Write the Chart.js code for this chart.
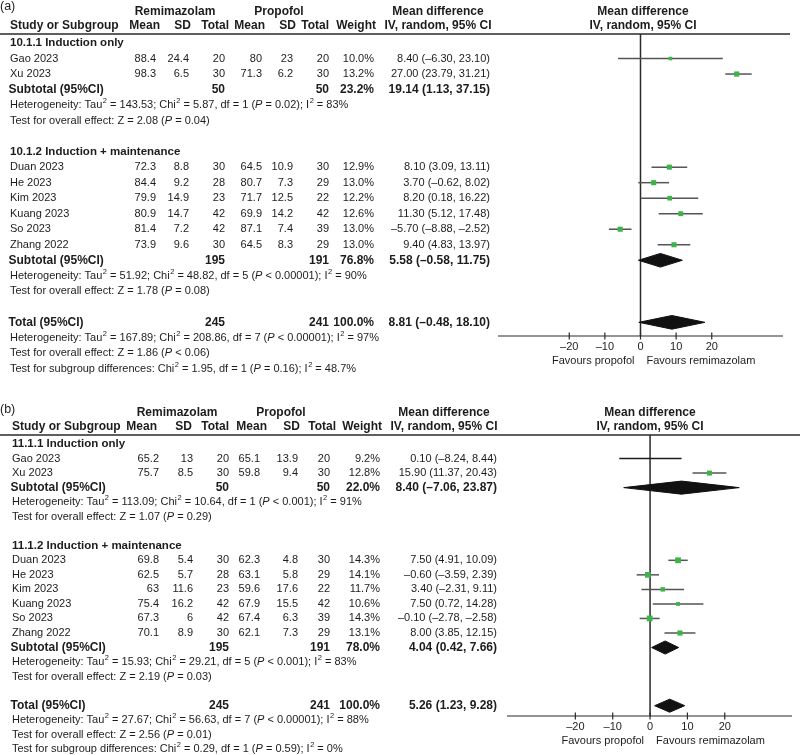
<!DOCTYPE html>
<html>
<head>
<meta charset="utf-8">
<script src="https://cdn.jsdelivr.net/npm/chart.js@4.4.0/dist/chart.umd.min.js"></script>
<style>
  body { margin: 0; background: #fff; }
  canvas { position: absolute; left: 0; }
</style>
</head>
<body>
<canvas id="chartA" width="800" height="385" style="top:0"></canvas>
<canvas id="chartB" width="800" height="370" style="top:385px"></canvas>
<script>
// ---- data ----
const studies = ["Gao 2023", "Xu 2023", "Duan 2023", "He 2023", "Kim 2023", "Kuang 2023", "So 2023", "Zhang 2022"];
const groupTitlesA = ["10.1.1 Induction only", "10.1.2 Induction + maintenance"];
const groupTitlesB = ["11.1.1 Induction only", "11.1.2 Induction + maintenance"];
const axisTicks = [-20, -10, 0, 10, 20];

// (a)
const aRemiMean = [88.4, 98.3, 72.3, 84.4, 79.9, 80.9, 81.4, 73.9];
const aRemiSD = [24.4, 6.5, 8.8, 9.2, 14.9, 14.7, 7.2, 9.6];
const aRemiN = [20, 30, 30, 28, 23, 42, 42, 30];
const aPropMean = [80, 71.3, 64.5, 80.7, 71.7, 69.9, 87.1, 64.5];
const aPropSD = [23, 6.2, 10.9, 7.3, 12.5, 14.2, 7.4, 8.3];
const aPropN = [20, 30, 30, 29, 22, 42, 39, 29];
const aWeight = [10.0, 13.2, 12.9, 13.0, 12.2, 12.6, 13.0, 13.0];
const aMD = [8.40, 27.00, 8.10, 3.70, 8.20, 11.30, -5.70, 9.40];
const aLow = [-6.30, 23.79, 3.09, -0.62, 0.18, 5.12, -8.88, 4.83];
const aHigh = [23.10, 31.21, 13.11, 8.02, 16.22, 17.48, -2.52, 13.97];
const aCiText = ["8.40 (–6.30, 23.10)", "27.00 (23.79, 31.21)", "8.10 (3.09, 13.11)", "3.70 (–0.62, 8.02)",
                 "8.20 (0.18, 16.22)", "11.30 (5.12, 17.48)", "–5.70 (–8.88, –2.52)", "9.40 (4.83, 13.97)"];
// subtotal 1, subtotal 2, total
const aPoolRemiN = [50, 195, 245];
const aPoolPropN = [50, 191, 241];
const aPoolWeight = ["23.2%", "76.8%", "100.0%"];
const aPoolMD = [19.14, 5.58, 8.81];
const aPoolLow = [1.13, -0.58, -0.48];
const aPoolHigh = [37.15, 11.75, 18.10];
const aPoolText = ["19.14 (1.13, 37.15)", "5.58 (–0.58, 11.75)", "8.81 (–0.48, 18.10)"];
const aPoolDrawn = [false, true, true];
const aStats = [
  ["Heterogeneity: Tau^2 = 143.53; Chi^2 = 5.87, df = 1 (*P* = 0.02); I^2 = 83%",
   "Test for overall effect: Z = 2.08 (*P* = 0.04)"],
  ["Heterogeneity: Tau^2 = 51.92; Chi^2 = 48.82, df = 5 (*P* < 0.00001); I^2 = 90%",
   "Test for overall effect: Z = 1.78 (*P* = 0.08)"],
  ["Heterogeneity: Tau^2 = 167.89; Chi^2 = 208.86, df = 7 (*P* < 0.00001); I^2 = 97%",
   "Test for overall effect: Z = 1.86 (*P* < 0.06)",
   "Test for subgroup differences: Chi^2 = 1.95, df = 1 (*P* = 0.16); I^2 = 48.7%"]
];

// (b)
const bRemiMean = [65.2, 75.7, 69.8, 62.5, 63, 75.4, 67.3, 70.1];
const bRemiSD = [13, 8.5, 5.4, 5.7, 11.6, 16.2, 6, 8.9];
const bRemiN = [20, 30, 30, 28, 23, 42, 42, 30];
const bPropMean = [65.1, 59.8, 62.3, 63.1, 59.6, 67.9, 67.4, 62.1];
const bPropSD = [13.9, 9.4, 4.8, 5.8, 17.6, 15.5, 6.3, 7.3];
const bPropN = [20, 30, 30, 29, 22, 42, 39, 29];
const bWeight = [9.2, 12.8, 14.3, 14.1, 11.7, 10.6, 14.3, 13.1];
const bMD = [0.10, 15.90, 7.50, -0.60, 3.40, 7.50, -0.10, 8.00];
const bLow = [-8.24, 11.37, 4.91, -3.59, -2.31, 0.72, -2.78, 3.85];
const bHigh = [8.44, 20.43, 10.09, 2.39, 9.11, 14.28, 2.58, 12.15];
const bCiText = ["0.10 (–8.24, 8.44)", "15.90 (11.37, 20.43)", "7.50 (4.91, 10.09)", "–0.60 (–3.59, 2.39)",
                 "3.40 (–2.31, 9.11)", "7.50 (0.72, 14.28)", "–0.10 (–2.78, –2.58)", "8.00 (3.85, 12.15)"];
const bPoolRemiN = [50, 195, 245];
const bPoolPropN = [50, 191, 241];
const bPoolWeight = ["22.0%", "78.0%", "100.0%"];
const bPoolMD = [8.40, 4.04, 5.26];
const bPoolLow = [-7.06, 0.42, 1.23];
const bPoolHigh = [23.87, 7.66, 9.28];
const bPoolText = ["8.40 (–7.06, 23.87)", "4.04 (0.42, 7.66)", "5.26 (1.23, 9.28)"];
const bPoolDrawn = [true, true, true];
const bStats = [
  ["Heterogeneity: Tau^2 = 113.09; Chi^2 = 10.64, df = 1 (*P* < 0.001); I^2 = 91%",
   "Test for overall effect: Z = 1.07 (*P* = 0.29)"],
  ["Heterogeneity: Tau^2 = 15.93; Chi^2 = 29.21, df = 5 (*P* < 0.001); I^2 = 83%",
   "Test for overall effect: Z = 2.19 (*P* = 0.03)"],
  ["Heterogeneity: Tau^2 = 27.67; Chi^2 = 56.63, df = 7 (*P* < 0.00001); I^2 = 88%",
   "Test for overall effect: Z = 2.56 (*P* = 0.01)",
   "Test for subgroup differences: Chi^2 = 0.29, df = 1 (*P* = 0.59); I^2 = 0%"]
];

// row slots of the table (0 = first subgroup heading)
const studyRows = [1, 2, 8, 9, 10, 11, 12, 13];
const headingRows = [0, 7];
const pooledRows = [3, 14, 18];
const statRows = [[4, 5], [15, 16], [19, 20, 21]];

const FONT = '"Liberation Sans", Arial, sans-serif';
const INK = "#1c1c1c";
const GREEN = "#3bb44a";

function put(ctx, s, x, y, font, align) {
  ctx.font = font;
  ctx.textAlign = align;
  ctx.fillText(s, x, y);
}

// text with ^2 superscripts and italic *P*
function richText(ctx, str, x, y, size) {
  let cx = x;
  ctx.textAlign = "left";
  str.split(/(\^2|\*P\*)/).forEach((part) => {
    if (!part) return;
    if (part === "^2") {
      ctx.font = (size * 0.68) + "px " + FONT;
      ctx.fillText("2", cx + 0.5, y - size * 0.36);
      cx += ctx.measureText("2").width + 0.5;
    } else if (part === "*P*") {
      ctx.font = "italic " + size + "px " + FONT;
      ctx.fillText("P", cx, y);
      cx += ctx.measureText("P").width;
    } else {
      ctx.font = size + "px " + FONT;
      ctx.fillText(part, cx, y);
      cx += ctx.measureText(part).width;
    }
  });
}

function minus(t) {
  return t < 0 ? "–" + Math.abs(t) : String(t);
}

function makePanel(id, p) {
  const datasets = [];

  // confidence interval whiskers
  p.md.forEach((m, i) => {
    datasets.push({
      data: [{ x: p.low[i], y: studyRows[i] }, { x: p.high[i], y: studyRows[i] }],
      showLine: true,
      borderColor: p.whiskerColor(i),
      borderWidth: 1.5,
      pointRadius: 0,
      order: 3,
    });
  });

  // study squares, sized by weight
  datasets.push({
    data: p.md.map((m, i) => ({ x: m, y: studyRows[i] })),
    pointStyle: "rect",
    pointRadius: p.weight.map((w) => (w < 9.5 ? 0 : (3.6 + (w - 10) * 0.5) / Math.SQRT2)),
    backgroundColor: GREEN,
    borderWidth: 0,
    order: 1,
  });

  // pooled diamonds
  p.poolMD.forEach((m, k) => {
    if (!p.poolDrawn[k]) return;
    const r = pooledRows[k];
    const h = p.diamondHalf;
    datasets.push({
      data: [
        { x: p.poolLow[k], y: r },
        { x: m, y: r - h },
        { x: p.poolHigh[k], y: r },
        { x: m, y: r + h },
        { x: p.poolLow[k], y: r },
      ],
      showLine: true,
      fill: "shape",
      backgroundColor: "#111",
      borderColor: "#111",
      borderWidth: 1,
      pointRadius: 0,
      order: 2,
    });
  });

  const forestTable = {
    id: "forestTable",
    beforeDatasetsDraw(chart) {
      const { ctx, chartArea: ca, scales: { x } } = chart;
      const x0 = x.getPixelForValue(0);
      ctx.save();
      ctx.strokeStyle = "#2a2a2a";
      ctx.lineWidth = 1.5;
      // header rule
      ctx.beginPath();
      ctx.moveTo(0, ca.top);
      ctx.lineTo(p.ruleRight, ca.top);
      ctx.stroke();
      // line of no effect
      ctx.beginPath();
      ctx.moveTo(x0, ca.top);
      ctx.lineTo(x0, ca.bottom);
      ctx.stroke();
      // x axis with ticks
      ctx.lineWidth = 1.2;
      ctx.beginPath();
      ctx.moveTo(ca.left, ca.bottom);
      ctx.lineTo(ca.right, ca.bottom);
      axisTicks.forEach((t) => {
        const px = x.getPixelForValue(t);
        ctx.moveTo(px, ca.bottom - 3.5);
        ctx.lineTo(px, ca.bottom + 3.5);
      });
      ctx.stroke();
      ctx.restore();
    },
    afterDraw(chart) {
      const { ctx, chartArea: ca, scales: { x, y } } = chart;
      const Y = (r) => y.getPixelForValue(r);
      const reg = "11px " + FONT;
      const bold = "bold 12px " + FONT;
      const c = p.cols;
      const h = p.headCols;
      ctx.save();
      ctx.fillStyle = INK;
      ctx.textBaseline = "middle";

      put(ctx, p.tag, 0, p.tagY, "12.5px " + FONT, "left");

      // column headers
      const h1 = ca.top - 22;
      const h2 = ca.top - 8;
      put(ctx, "Remimazolam", p.remiCenter, h1, bold, "center");
      put(ctx, "Propofol", p.propCenter, h1, bold, "center");
      put(ctx, "Mean difference", p.mdCenter, h1, bold, "center");
      put(ctx, "Mean difference", p.plotCenter, h1, bold, "center");
      put(ctx, "Study or Subgroup", p.labelX, h2, bold, "left");
      ["Mean", "SD", "Total", "Mean", "SD", "Total", "Weight"].forEach((s, i) => put(ctx, s, h[i], h2, bold, "right"));
      put(ctx, "IV, random, 95% CI", p.mdCenter, h2, bold, "center");
      put(ctx, "IV, random, 95% CI", p.plotCenter, h2, bold, "center");

      // subgroup headings
      headingRows.forEach((r, g) => put(ctx, p.groups[g], p.labelX, Y(r), "bold 11.5px " + FONT, "left"));

      // study rows
      studies.forEach((s, i) => {
        const yy = Y(studyRows[i]);
        put(ctx, s, p.labelX, yy, reg, "left");
        const vals = [p.remiMean[i], p.remiSD[i], p.remiN[i], p.propMean[i], p.propSD[i], p.propN[i]];
        vals.forEach((v, j) => put(ctx, minus(v), c[j], yy, reg, "right"));
        put(ctx, p.weight[i].toFixed(1) + "%", c[6], yy, reg, "right");
        put(ctx, p.ciText[i], p.ciRight, yy, reg, "right");
      });

      // pooled rows
      ["Subtotal (95%CI)", "Subtotal (95%CI)", "Total (95%CI)"].forEach((s, k) => {
        const yy = Y(pooledRows[k]);
        put(ctx, s, p.labelX - 1.5, yy, bold, "left");
        put(ctx, String(p.poolRemiN[k]), c[2], yy, bold, "right");
        put(ctx, String(p.poolPropN[k]), c[5], yy, bold, "right");
        put(ctx, p.poolWeight[k], c[6], yy, bold, "right");
        put(ctx, p.poolText[k], p.ciRight, yy, bold, "right");
      });

      // heterogeneity / effect tests
      p.stats.forEach((lines, k) => {
        lines.forEach((ln, j) => richText(ctx, ln, p.labelX, Y(statRows[k][j]), 11));
      });

      // axis labels
      axisTicks.forEach((t) => put(ctx, minus(t), x.getPixelForValue(t), ca.bottom + 11, reg, "center"));
      const x0 = x.getPixelForValue(0);
      put(ctx, "Favours propofol", x0 - 6, ca.bottom + 25, reg, "right");
      put(ctx, "Favours remimazolam", x0 + 6, ca.bottom + 25, reg, "left");
      ctx.restore();
    },
  };

  new Chart(document.getElementById(id).getContext("2d"), {
    type: "scatter",
    data: { datasets: datasets },
    options: {
      responsive: false,
      animation: false,
      events: [],
      layout: { padding: p.padding },
      plugins: { legend: { display: false }, tooltip: { enabled: false } },
      scales: {
        x: { type: "linear", min: p.xMin, max: p.xMax, display: false },
        y: { type: "linear", reverse: true, min: p.yMin, max: p.yMax, display: false },
      },
    },
    plugins: [forestTable],
  });
}

makePanel("chartA", {
  tag: "(a)", tagY: 7, groups: groupTitlesA,
  remiMean: aRemiMean, remiSD: aRemiSD, remiN: aRemiN,
  propMean: aPropMean, propSD: aPropSD, propN: aPropN,
  weight: aWeight, md: aMD, low: aLow, high: aHigh, ciText: aCiText,
  poolRemiN: aPoolRemiN, poolPropN: aPoolPropN, poolWeight: aPoolWeight,
  poolMD: aPoolMD, poolLow: aPoolLow, poolHigh: aPoolHigh, poolText: aPoolText, poolDrawn: aPoolDrawn,
  stats: aStats,
  whiskerColor: () => "#555555",
  diamondHalf: 0.44,
  labelX: 10,
  cols: [156, 189, 225, 262, 293, 329, 374],
  headCols: [160, 191, 229, 265, 296, 329, 376],
  ciRight: 490, remiCenter: 175, propCenter: 279, mdCenter: 438, plotCenter: 643,
  ruleRight: 790,
  padding: { left: 498, right: 17, top: 34, bottom: 49 },
  xMin: -40, xMax: 40, yMin: -0.58, yMax: 18.88,
});

makePanel("chartB", {
  tag: "(b)", tagY: 25, groups: groupTitlesB,
  remiMean: bRemiMean, remiSD: bRemiSD, remiN: bRemiN,
  propMean: bPropMean, propSD: bPropSD, propN: bPropN,
  weight: bWeight, md: bMD, low: bLow, high: bHigh, ciText: bCiText,
  poolRemiN: bPoolRemiN, poolPropN: bPoolPropN, poolWeight: bPoolWeight,
  poolMD: bPoolMD, poolLow: bPoolLow, poolHigh: bPoolHigh, poolText: bPoolText, poolDrawn: bPoolDrawn,
  stats: bStats,
  whiskerColor: (i) => (i === 0 ? "#1c1c1c" : "#555555"),
  diamondHalf: 0.45,
  labelX: 12,
  cols: [159, 193, 229, 260, 298, 330, 380],
  headCols: [157, 192, 229, 267, 300, 336, 382],
  ciRight: 497, remiCenter: 177, propCenter: 281, mdCenter: 444, plotCenter: 650,
  ruleRight: 800,
  padding: { left: 507, right: 8, top: 50, bottom: 39 },
  xMin: -38.3, xMax: 38, yMin: -0.62, yMax: 18.71,
});
</script>
</body>
</html>
